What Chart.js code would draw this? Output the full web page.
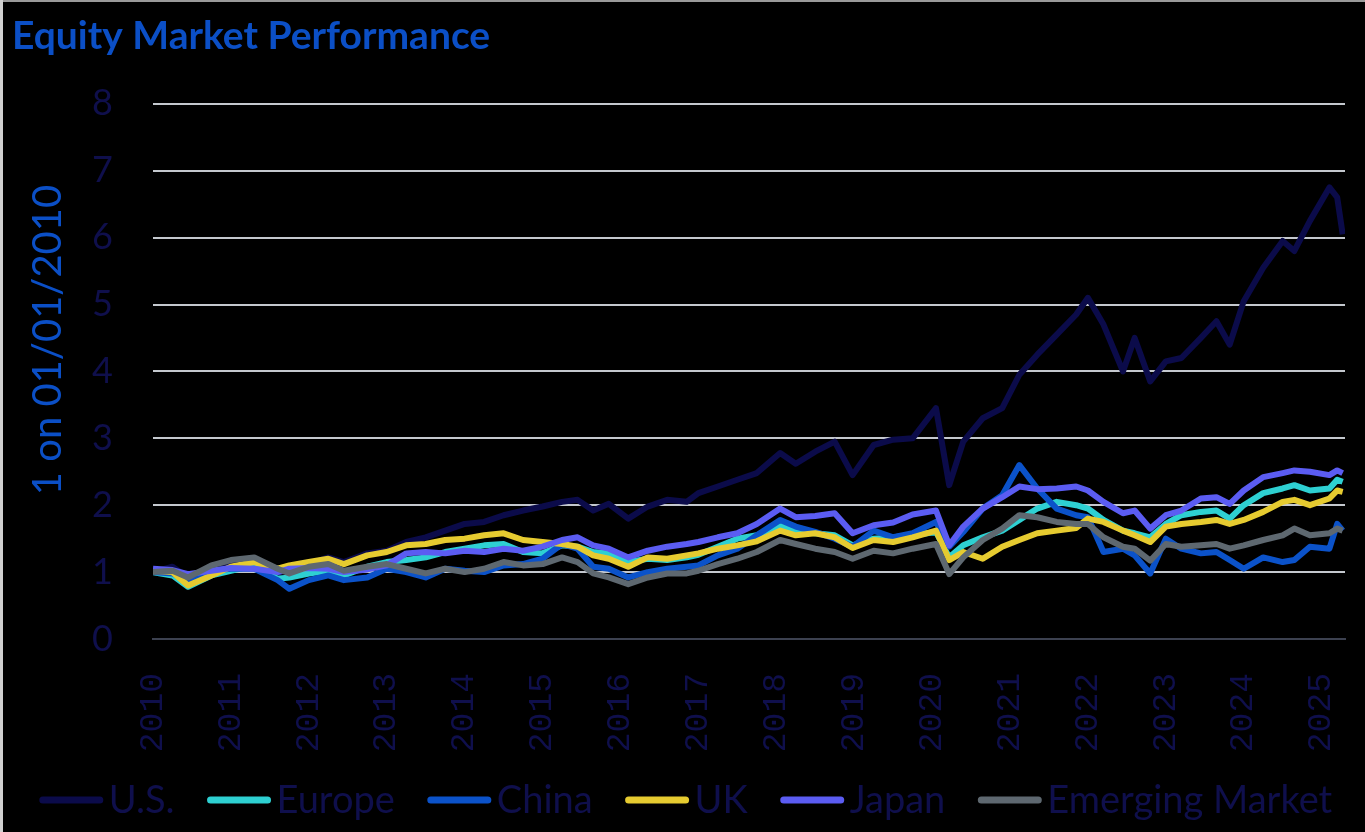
<!DOCTYPE html>
<html>
<head>
<meta charset="utf-8">
<script src="https://cdn.jsdelivr.net/npm/chart.js@4.4.1/dist/chart.umd.min.js"></script>
<style>
html, body { margin: 0; padding: 0; background: #000; }
#wrap { position: relative; width: 1365px; height: 832px; }
#edgeTop { position: absolute; left: 0; top: 0; width: 1365px; height: 2px; background: #9a9a9a; }
#edgeLeft { position: absolute; left: 0; top: 0; width: 3px; height: 832px; background: #d0d0d0; }
</style>
</head>
<body>
<div id="wrap">
  <canvas id="chart" width="1365" height="832"></canvas>
  <div id="edgeTop"></div>
  <div id="edgeLeft"></div>
</div>
<script>
// 시점 (소수 연도)
var dates = [2010.0, 2010.25, 2010.45, 2010.75, 2011.0, 2011.3, 2011.6, 2011.75, 2012.0, 2012.25, 2012.45, 2012.75,
  2013.0, 2013.25, 2013.5, 2013.75, 2014.0, 2014.25, 2014.5, 2014.75, 2015.0, 2015.25, 2015.45, 2015.65, 2015.85,
  2016.1, 2016.35, 2016.6, 2016.85, 2017.0, 2017.25, 2017.5, 2017.75, 2018.05, 2018.25, 2018.5, 2018.75, 2018.98,
  2019.25, 2019.5, 2019.75, 2020.05, 2020.22, 2020.4, 2020.65, 2020.9, 2021.12, 2021.35, 2021.6, 2021.85, 2022.0,
  2022.2, 2022.45, 2022.6, 2022.8, 2023.0, 2023.2, 2023.45, 2023.65, 2023.82, 2024.0, 2024.25, 2024.5, 2024.65,
  2024.85, 2025.1, 2025.2, 2025.27];

var us = [1.00, 1.08, 0.92, 1.05, 1.12, 1.18, 0.98, 1.05, 1.12, 1.22, 1.15, 1.28,
  1.32, 1.45, 1.52, 1.62, 1.72, 1.75, 1.85, 1.92, 1.98, 2.05, 2.08, 1.92, 2.02,
  1.80, 1.98, 2.08, 2.05, 2.18, 2.28, 2.38, 2.48, 2.78, 2.62, 2.80, 2.95, 2.45,
  2.90, 2.98, 3.00, 3.45, 2.30, 2.95, 3.30, 3.45, 3.95, 4.25, 4.55, 4.85, 5.10,
  4.70, 4.00, 4.50, 3.85, 4.15, 4.20, 4.50, 4.75, 4.40, 5.05, 5.55, 5.95, 5.80,
  6.25, 6.75, 6.60, 6.05];

var europe = [1.00, 0.95, 0.78, 0.95, 1.02, 1.10, 0.90, 0.92, 0.98, 1.02, 0.95, 1.08,
  1.15, 1.18, 1.22, 1.30, 1.35, 1.40, 1.42, 1.30, 1.28, 1.40, 1.38, 1.30, 1.28,
  1.15, 1.20, 1.18, 1.22, 1.26, 1.38, 1.50, 1.55, 1.70, 1.60, 1.58, 1.55, 1.40,
  1.50, 1.52, 1.55, 1.60, 1.22, 1.40, 1.52, 1.62, 1.78, 1.95, 2.05, 2.00, 1.95,
  1.78, 1.62, 1.58, 1.52, 1.72, 1.85, 1.90, 1.92, 1.80, 2.00, 2.18, 2.25, 2.30,
  2.22, 2.25, 2.38, 2.35];

var china = [1.00, 0.98, 0.88, 1.02, 1.05, 1.05, 0.88, 0.75, 0.88, 0.95, 0.88, 0.92,
  1.05, 1.00, 0.92, 1.05, 1.02, 1.00, 1.10, 1.12, 1.20, 1.42, 1.35, 1.08, 1.05,
  0.92, 1.00, 1.05, 1.08, 1.10, 1.25, 1.35, 1.55, 1.78, 1.68, 1.60, 1.50, 1.38,
  1.62, 1.52, 1.58, 1.75, 1.38, 1.60, 1.95, 2.15, 2.60, 2.25, 1.95, 1.85, 1.82,
  1.30, 1.35, 1.25, 0.98, 1.50, 1.35, 1.28, 1.30, 1.18, 1.05, 1.22, 1.15, 1.18,
  1.38, 1.35, 1.72, 1.62];

var uk = [1.02, 1.00, 0.80, 0.95, 1.08, 1.15, 1.05, 1.10, 1.15, 1.20, 1.12, 1.25,
  1.30, 1.40, 1.42, 1.48, 1.50, 1.55, 1.58, 1.48, 1.45, 1.42, 1.38, 1.25, 1.20,
  1.08, 1.22, 1.20, 1.25, 1.28, 1.35, 1.40, 1.46, 1.62, 1.55, 1.58, 1.52, 1.36,
  1.48, 1.45, 1.52, 1.62, 1.18, 1.30, 1.20, 1.38, 1.48, 1.58, 1.62, 1.66, 1.80,
  1.75, 1.62, 1.55, 1.45, 1.68, 1.72, 1.75, 1.78, 1.72, 1.78, 1.90, 2.05, 2.08,
  2.00, 2.10, 2.22, 2.20];

var japan = [1.05, 1.03, 0.97, 1.02, 1.06, 1.05, 1.00, 1.05, 1.06, 1.05, 1.00, 1.04,
  1.10, 1.28, 1.30, 1.28, 1.32, 1.30, 1.35, 1.32, 1.38, 1.48, 1.52, 1.40, 1.35,
  1.22, 1.32, 1.38, 1.42, 1.45, 1.52, 1.58, 1.72, 1.95, 1.82, 1.84, 1.88, 1.58,
  1.70, 1.74, 1.86, 1.92, 1.40, 1.68, 1.95, 2.12, 2.28, 2.24, 2.25, 2.28, 2.22,
  2.05, 1.88, 1.92, 1.65, 1.85, 1.92, 2.10, 2.12, 2.02, 2.22, 2.42, 2.48, 2.52,
  2.50, 2.45, 2.52, 2.48];

var emerging = [1.00, 1.02, 0.92, 1.10, 1.18, 1.22, 1.05, 0.98, 1.08, 1.12, 1.02, 1.08,
  1.12, 1.05, 0.98, 1.05, 1.00, 1.05, 1.15, 1.10, 1.12, 1.22, 1.15, 0.98, 0.92,
  0.82, 0.92, 0.98, 0.98, 1.02, 1.12, 1.20, 1.30, 1.48, 1.42, 1.35, 1.30, 1.20,
  1.32, 1.28, 1.35, 1.42, 0.97, 1.22, 1.48, 1.65, 1.85, 1.82, 1.75, 1.72, 1.72,
  1.52, 1.38, 1.35, 1.17, 1.42, 1.38, 1.40, 1.42, 1.35, 1.40, 1.48, 1.55, 1.65,
  1.55, 1.58, 1.65, 1.62];

var seriesNames = ['U.S.', 'Europe', 'China', 'UK', 'Japan', 'Emerging Market'];
var seriesValues = [us, europe, china, uk, japan, emerging];
var seriesColors = ['#0b0b4a', '#2ed0d2', '#0b52c9', '#e6cb30', '#5b5cf2', '#5e6870'];
var yTicks = [0, 1, 2, 3, 4, 5, 6, 7, 8];
var yearTicks = [2010, 2011, 2012, 2013, 2014, 2015, 2016, 2017, 2018, 2019, 2020, 2021, 2022, 2023, 2024, 2025];

var textNavy = '#0f0f4c';
var titleBlue = '#0b4fc6';

// 시리즈 별로 {x, y} 점 만들기
function makePoints(values){
	var pts = new Array();
	for(var i=0; i<dates.length; i++){
		pts.push({x: dates[i], y: values[i]});
	}
	return pts;
}

var datasets = new Array();
for(var s=0; s<seriesNames.length; s++){
	datasets.push({
		label: seriesNames[s],
		data: makePoints(seriesValues[s]),
		borderColor: seriesColors[s],
		backgroundColor: seriesColors[s],
		borderWidth: 6,
		pointRadius: 0,
		tension: 0,
		borderJoinStyle: 'round',
		order: seriesNames.length - s // 뒤 시리즈가 위에 그려지도록
	});
}

// y축 제목 (엑셀처럼 살짝 위쪽에 놓임)
var yTitlePlugin = {
	id: 'yTitle',
	afterDraw: function(chart){
		var c = chart.ctx;
		c.save();
		c.translate(48, 340);
		c.rotate(-Math.PI / 2);
		c.fillStyle = titleBlue;
		c.font = '40px Lato';
		c.textAlign = 'center';
		c.textBaseline = 'middle';
		c.fillText('1 on 01/01/2010', 0, 0);
		c.restore();
	}
};

// 범례 : 선 + 글자 간격을 좁게
var legendPlugin = {
	id: 'lineLegend',
	afterDraw: function(chart){
		var c = chart.ctx;
		var lineW = 65, gapText = 5, gapItem = 32, yMid = 800;
		c.save();
		c.font = '38px Lato';
		var total = 0;
		var widths = new Array();
		for(var i=0; i<seriesNames.length; i++){
			var w = c.measureText(seriesNames[i]).width;
			widths.push(w);
			total += lineW + gapText + w;
		}
		total += gapItem * (seriesNames.length - 1);
		var x = (chart.width - total) / 2 + 3;
		c.textBaseline = 'middle';
		c.textAlign = 'left';
		for(var i=0; i<seriesNames.length; i++){
			c.strokeStyle = seriesColors[i];
			c.lineWidth = 7;
			c.lineCap = 'round';
			c.beginPath();
			c.moveTo(x + 4, yMid);
			c.lineTo(x + lineW - 4, yMid);
			c.stroke();
			x += lineW + gapText;
			c.fillStyle = textNavy;
			c.fillText(seriesNames[i], x, yMid + 1);
			x += widths[i] + gapItem;
		}
		c.restore();
	}
};

var ctx = document.getElementById('chart').getContext('2d');
var myChart = new Chart(ctx, {
	type: 'line',
	data: { datasets: datasets },
	plugins: [yTitlePlugin, legendPlugin],
	options: {
		responsive: false,
		animation: false,
		layout: { padding: { left: 12, right: 20, top: 0, bottom: 73 } },
		plugins: {
			title: {
				display: true,
				text: 'Equity Market Performance',
				align: 'start',
				color: titleBlue,
				font: { family: 'Lato', size: 39, weight: 'bold' },
				padding: { top: 13, bottom: 44 }
			},
			legend: { display: false },
			tooltip: { enabled: false }
		},
		scales: {
			x: {
				type: 'linear',
				min: 2010,
				max: 2025.3,
				afterBuildTicks: function(scale){
					scale.ticks = yearTicks.map(function(v){ return {value: v}; });
				},
				afterFit: function(scale){
					scale.height = 120;
					scale.paddingLeft = 0;
					scale.paddingRight = 0;
				},
				grid: { display: false, drawTicks: false },
				border: { display: true, color: '#3c4150', width: 2 },
				ticks: {
					color: textNavy,
					font: { family: 'Liberation Mono', size: 33 },
					minRotation: 90,
					maxRotation: 90,
					padding: 34,
					callback: function(v){ return String(v); }
				}
			},
			y: {
				min: 0,
				max: 8,
				afterBuildTicks: function(scale){
					scale.ticks = yTicks.map(function(v){ return {value: v}; });
				},
				afterFit: function(scale){ scale.width = 141; },
				grid: { color: '#c4c8ce', lineWidth: 2, drawTicks: false },
				border: { display: false },
				ticks: {
					color: textNavy,
					font: { family: 'Lato', size: 36 },
					padding: 40
				}
			}
		}
	}
});
</script>
</body>
</html>
